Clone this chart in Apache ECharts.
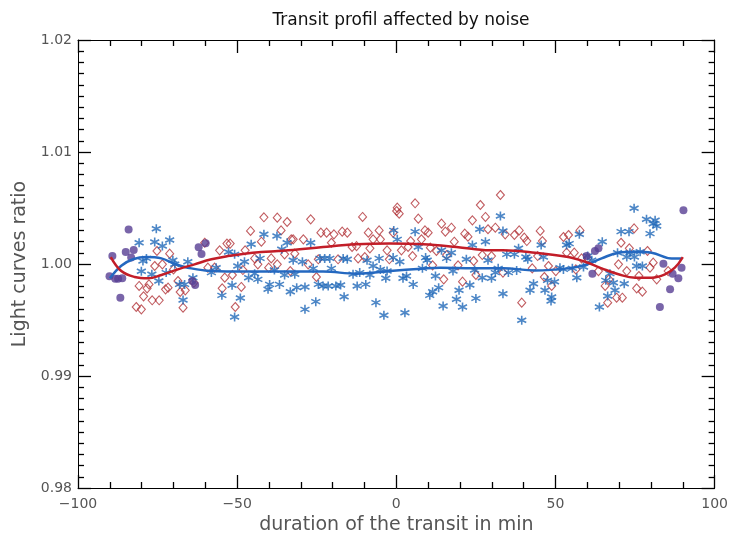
<!DOCTYPE html>
<html>
<head>
<meta charset="utf-8">
<script src="https://cdn.jsdelivr.net/npm/echarts@6/dist/echarts.min.js"></script>
<style>
  html, body { margin: 0; padding: 0; background: #fff; }
  #chart { width: 731px; height: 540px; }
</style>
</head>
<body>
<div id="chart"></div>
<script>
// Noisy transit light-curve ratios (time in min, ratio) and their smooth fits.
const blueStars = [
  [-80.8,1.0019],[-75.4,1.00315],[-75.9,1.00196],[-73.5,1.0016],[-71.2,1.00214],[-78.5,1.0005],
  [-79.6,1.00027],[-80.1,0.99935],[-76.8,0.99908],[-74.6,0.99848],[-72.3,0.99923],[-70.2,1.00033],
  [-69.6,0.99997],[-68.1,0.99818],[-66.5,0.99818],[-67.0,0.99679],[-63.9,0.99878],[-65.5,1.0002],
  [-56.6,0.99967],[-58.1,0.99923],[-54.8,0.9972],[-51.6,0.9981],[-49.0,0.99696],[-50.8,0.99527],
  [-52.7,1.00107],[-50.8,1.00086],[-49.8,0.99982],[-47.7,1.0002],[-45.6,1.00176],[-41.6,1.00265],
  [-37.5,1.0025],[-42.8,1.0005],[-44.5,0.99914],[-46.4,0.99878],[-43.5,0.99863],[-39.8,0.99818],
  [-40.3,0.99774],[-36.7,0.99818],[-38.3,0.99946],[-35.1,0.99902],[-36.0,1.00131],[-34.3,1.0019],
  [-33.3,0.99753],
  [-26.9,1.0019],[-29.5,1.0002],[-32.4,1.00033],[-31.9,0.99908],[-31.3,0.99789],[-28.7,0.99795],
  [-28.7,0.99595],[-25.3,0.99664],[-26.1,0.99961],[-24.5,0.99818],[-23.0,0.99804],[-21.4,0.99804],
  [-20.4,0.99961],[-19.0,0.99804],[-17.5,0.99812],[-16.4,0.99708],[-24.0,1.0005],[-22.5,1.0005],
  [-20.9,1.0005],[-16.7,1.0005],[-15.4,1.00042],[-13.6,0.99908],[-11.5,0.99923],[-12.3,0.99804],
  [-9.6,0.99818],[-8.3,0.99902],[-9.2,1.00033],[-7.3,0.99982],[-5.4,1.0005],[-5.0,0.99952],
  [-3.3,0.99872],[-2.9,0.99937],[-1.0,1.00057],[-6.4,0.99655],[-3.9,0.99542],[-0.8,1.003],
  [0.3,1.0022],[1.1,1.0002],[2.1,0.99872],[3.2,0.99893],[5.3,0.99818],[2.7,0.99565],
  [5.9,1.00289],[6.9,1.00152],[8.2,0.99961],[9.2,1.00057],[9.7,1.00033],[10.5,0.9972],
  [11.4,0.99753],[12.3,0.99893],[13.3,0.99789],[14.2,1.00122],[14.7,0.99625],[15.8,1.0005],
  [17.3,1.00101],[17.8,0.99937],[18.9,0.99685],[19.7,0.99765],[20.8,0.99616],[22.0,1.00042],
  [23.1,0.99812],[23.9,1.0017],[25.0,0.99693],[26.2,1.0031],[27.0,0.99878],[28.0,1.00199],
  [28.8,1.00033],[29.9,0.99872],[31.1,0.99923],[32.7,1.00429],[33.5,1.00295],[33.5,0.99735],
  [32.0,0.99961],[24.6,0.99946],
  [34.7,1.00086],[35.2,0.99923],[37.1,1.00086],[38.4,1.0014],[37.8,0.99943],[39.4,0.99497],
  [40.7,1.00062],[41.3,1.00042],[42.0,0.99765],[43.1,0.99824],[45.5,1.0017],[46.2,1.00062],
  [46.7,0.99765],[47.5,0.99854],[48.8,0.99705],[49.7,0.99842],[48.6,0.9967],[51.4,0.99967],
  [53.5,1.0017],[54.3,1.00182],[52.5,0.99952],[55.3,0.99961],[56.7,0.99878],[57.5,1.00265],
  [58.8,0.99973],[60.1,1.00071],[61.4,1.00033],[63.8,0.99616],[64.7,1.00199],[65.8,0.99854],
  [66.4,0.99714],[67.1,0.99914],[68.2,0.99833],[68.7,0.99765],[69.5,1.00101],[70.6,1.00289],
  [71.6,0.99824],[72.4,1.00062],[73.1,1.00289],[73.4,1.00101],[74.7,1.00497],[75.5,0.99982],
  [76.6,1.0011],[77.3,0.99982],[78.6,1.00399],[79.7,1.00271],[80.7,1.0036],[81.3,1.0039],
  [81.8,1.00339],[74.8,1.00062]
];

const redDiamonds = [
  [-80.8,0.99804],[-79.4,0.99711],[-81.7,0.99616],[-80.1,0.99595],[-78.3,0.99783],[-77.7,0.99818],
  [-76.7,0.99676],[-74.5,0.99676],[-75.2,1.00116],[-75.9,0.99982],[-73.5,0.99997],[-71.2,1.00092],
  [-72.5,0.99774],[-71.7,0.99789],[-70.0,0.99952],[-68.6,0.99848],[-67.9,0.9975],[-66.3,0.99765],
  [-67.0,0.9961],[-63.6,0.99833],[-60.2,1.0019],[-59.2,0.99967],[-57.1,0.99967],[-55.5,1.00122],
  [-53.9,0.99878],[-54.7,0.99783],[-53.2,1.00182],[-52.2,1.00182],[-51.5,0.99902],[-48.7,0.99795],
  [-48.2,0.99946],[-50.6,0.99616],[-47.5,1.00122],[-45.8,1.00295],[-42.4,1.00199],[-41.6,1.00417],
  [-37.4,1.00414],[-34.3,1.00375],[-36.2,1.003],[-44.5,1.0005],[-43.5,0.99997],[-39.3,1.0005],
  [-40.1,0.99967],[-37.4,0.99997],[-35.1,1.00086],[-33.0,1.0022],[-33.3,0.99937],
  [-32.4,1.0022],[-29.2,1.0022],[-26.9,1.00399],[-31.9,1.00092],[-27.7,0.99997],[-25.1,0.99884],
  [-23.7,1.0028],[-21.9,1.0028],[-19.6,1.00265],[-17.0,1.00289],[-15.4,1.0028],[-20.4,1.0019],
  [-24.5,1.00042],[-18.3,1.00042],[-13.9,1.00152],[-12.5,1.0016],[-10.6,1.0042],[-8.8,1.0028],
  [-7.3,1.0022],[-5.4,1.003],[-5.0,1.0022],[-8.3,1.0014],[-9.9,1.00062],[-12.0,1.0005],
  [-2.9,1.00122],[-2.2,1.00042],[-1.0,1.0028],[0.3,1.00503],[0.9,1.00449],[0.1,1.00473],
  [1.6,1.00122],[3.7,1.00152],[4.5,1.00205],[5.1,1.00071],[5.9,1.00542],[6.9,1.00405],
  [7.9,1.0022],[9.0,1.003],[10.0,1.0028],[10.7,1.00146],[11.4,0.99988],[14.2,1.0036],
  [14.9,0.99863],[15.4,1.00289],[17.3,1.00324],[18.2,1.00199],[19.4,0.99988],[20.8,0.99842],
  [21.5,1.00271],[22.5,1.00244],[23.9,1.0039],[25.0,0.99902],[26.4,1.00527],[27.0,1.0008],
  [28.0,1.0042],[28.8,1.0031],[29.9,1.00071],[31.1,1.00324],[32.7,1.00616],[33.5,0.99923],
  [15.8,1.0008],[12.6,1.00116],[24.3,1.00027],
  [34.2,1.00265],[37.1,1.00259],[38.6,1.003],[40.2,1.00235],[41.0,1.00205],[44.4,1.00071],
  [45.2,1.00295],[45.9,1.00205],[47.8,0.99982],[39.4,0.99655],[42.7,0.99961],[46.5,0.99884],
  [48.8,0.99804],[50.1,0.99937],[52.5,1.00241],[54.1,1.00259],[53.5,1.00101],[55.9,1.00101],
  [56.4,0.99952],[57.7,1.003],[58.2,1.0005],[60.1,1.0005],[65.6,0.99804],[66.8,0.99863],
  [66.4,0.99655],[69.2,0.99699],[71.0,0.99699],[69.8,0.99997],[70.6,1.0019],[72.4,0.99937],
  [73.2,1.0014],[74.7,1.00318],[75.5,0.99783],[77.3,0.99753],[76.2,0.99893],[78.9,1.00116],
  [79.7,0.99967],[80.7,1.00012],[81.8,0.99863],[85.4,0.99937],[63.5,0.99937]
];

const purpleDots = [
  [-89.2,1.00071],[-90.1,0.9989],[-88.3,0.99869],[-87.4,0.99869],[-86.1,0.99872],[-86.7,0.99699],
  [-84.1,1.00307],[-85.0,1.00107],[-83.3,1.00057],[-82.5,1.00125],[-62.1,1.00149],[-61.2,1.00089],
  [-59.9,1.00185],[-64.1,0.99848],[-63.2,0.99812],
  [90.2,1.00479],[82.8,0.99616],[86.0,0.99774],[88.6,0.99872],[86.8,0.99914],[89.6,0.99967],
  [83.9,1.00003],[62.4,1.00116],[63.5,1.0014],[61.6,0.99914],[59.8,1.00071]
];

const blueFit = [
  [-90,0.99872],[-86.4,0.99985],[-82.5,1.00045],[-78.5,1.00062],[-73.8,1.0005],[-69.6,1.0000],
  [-65.5,0.99967],[-58.1,0.99937],[-47.7,0.99932],[-37.2,0.99932],[-23,0.99932],[-12.5,0.99914],
  [-2,0.99937],[7.9,0.99958],[13.7,0.99967],[24.1,0.99961],[33.5,0.99961],[43.6,0.99943],
  [54.0,0.99961],[59.3,0.99991],[64.5,1.0005],[69.8,1.00101],[75.0,1.0011],[80.2,1.00101],
  [86.5,1.0005],[89.6,1.0005]
];

const redFit = [
  [-89.7,1.00062],[-86.4,0.99937],[-82.2,0.99884],[-78.0,0.99872],[-73.8,0.99902],[-68.6,0.99952],
  [-63.4,0.99997],[-58.1,1.00042],[-52.9,1.00071],[-47.7,1.00092],[-42.4,1.00107],[-37.2,1.00116],
  [-32.5,1.00125],[-23,1.00152],[-12.5,1.00176],[-2,1.00182],[8.4,1.00176],[18.9,1.00152],
  [29.4,1.00122],[33.5,1.00122],[43.6,1.00101],[54.0,1.00062],[59.3,1.0002],[64.5,0.99961],
  [69.8,0.99908],[75.0,0.99878],[80.2,0.99878],[84.4,0.99908],[87.5,0.99967],[90,1.00062]
];

const xTicks = [-100, -50, 0, 50, 100];
const yTicks = [0.98, 0.99, 1.00, 1.01, 1.02];

const FONT = 'DejaVu Sans';
const AXIS_COLOR = '#000';
const TICK_STYLE = { color: AXIS_COLOR, width: 1.3 };

// six-armed asterisk drawn as stroked segments
const ASTERISK = 'path://M0,-10L0,10M-8.66,-5L8.66,5M-8.66,5L8.66,-5';

function baseAxis(extra) {
  return Object.assign({
    type: 'value',
    axisLine: { show: true, onZero: false, lineStyle: { color: AXIS_COLOR, width: 1 } },
    axisTick: { show: true, inside: true, length: 13, lineStyle: TICK_STYLE },
    splitLine: { show: false },
    minorSplitLine: { show: false }
  }, extra);
}

const chart = echarts.init(document.getElementById('chart'), null, { renderer: 'canvas' });

chart.setOption({
  animation: false,
  backgroundColor: '#fff',
  title: {
    text: 'Transit profil affected by noise',
    left: 396,
    top: 7,
    textAlign: 'center',
    textStyle: { fontFamily: FONT, fontSize: 17, fontWeight: 'normal', color: '#111' }
  },
  grid: { left: 78, right: 16, top: 40, bottom: 52 },
  xAxis: [
    baseAxis({
      position: 'bottom',
      min: xTicks[0], max: xTicks[xTicks.length - 1], interval: 50,
      minorTick: { show: true, splitNumber: 5, length: 6, lineStyle: TICK_STYLE },
      axisLabel: {
        margin: 9, fontFamily: FONT, fontSize: 14, color: '#555',
        formatter: v => (xTicks.includes(v) ? String(v).replace('-', '\u2212') : '')
      },
      name: 'duration of the transit in min',
      nameLocation: 'middle',
      nameGap: 25,
      nameTextStyle: { fontFamily: FONT, fontSize: 19, color: '#555' }
    }),
    baseAxis({
      position: 'top',
      min: xTicks[0], max: xTicks[xTicks.length - 1], interval: 50,
      minorTick: { show: true, splitNumber: 5, length: 6, lineStyle: TICK_STYLE },
      axisLabel: { show: false }
    })
  ],
  yAxis: [
    baseAxis({
      position: 'left',
      min: yTicks[0], max: yTicks[yTicks.length - 1], interval: 0.01,
      minorTick: { show: true, splitNumber: 10, length: 6, lineStyle: TICK_STYLE },
      axisLabel: {
        margin: 6, fontFamily: FONT, fontSize: 14, color: '#555',
        formatter: v => v.toFixed(2)
      },
      name: 'Light curves ratio',
      nameLocation: 'middle',
      nameGap: 41,
      nameRotate: 90,
      nameTextStyle: { fontFamily: FONT, fontSize: 19, color: '#555' }
    }),
    baseAxis({
      position: 'right',
      min: yTicks[0], max: yTicks[yTicks.length - 1], interval: 0.01,
      minorTick: { show: true, splitNumber: 10, length: 6, lineStyle: TICK_STYLE },
      axisLabel: { show: false }
    })
  ],
  series: [
    {
      type: 'scatter',
      data: redDiamonds,
      symbol: 'diamond',
      symbolSize: [8, 9],
      itemStyle: { color: 'rgba(255,255,255,0)', borderColor: '#b23338', borderWidth: 1.1 },
      z: 2
    },
    {
      type: 'scatter',
      data: blueStars,
      symbol: ASTERISK,
      symbolSize: 9,
      itemStyle: { color: 'rgba(0,0,0,0)', borderColor: '#1f68b8', borderWidth: 1.6 },
      z: 3
    },
    {
      type: 'scatter',
      data: purpleDots,
      symbol: 'circle',
      symbolSize: 8,
      itemStyle: { color: '#583f94' },
      z: 4
    },
    {
      type: 'line',
      data: blueFit,
      smooth: 0.4,
      showSymbol: false,
      lineStyle: { color: '#2468c0', width: 2.5 },
      z: 5
    },
    {
      type: 'line',
      data: redFit,
      smooth: 0.4,
      showSymbol: false,
      lineStyle: { color: '#c21d28', width: 2.5 },
      z: 6
    }
  ]
});
</script>
</body>
</html>
